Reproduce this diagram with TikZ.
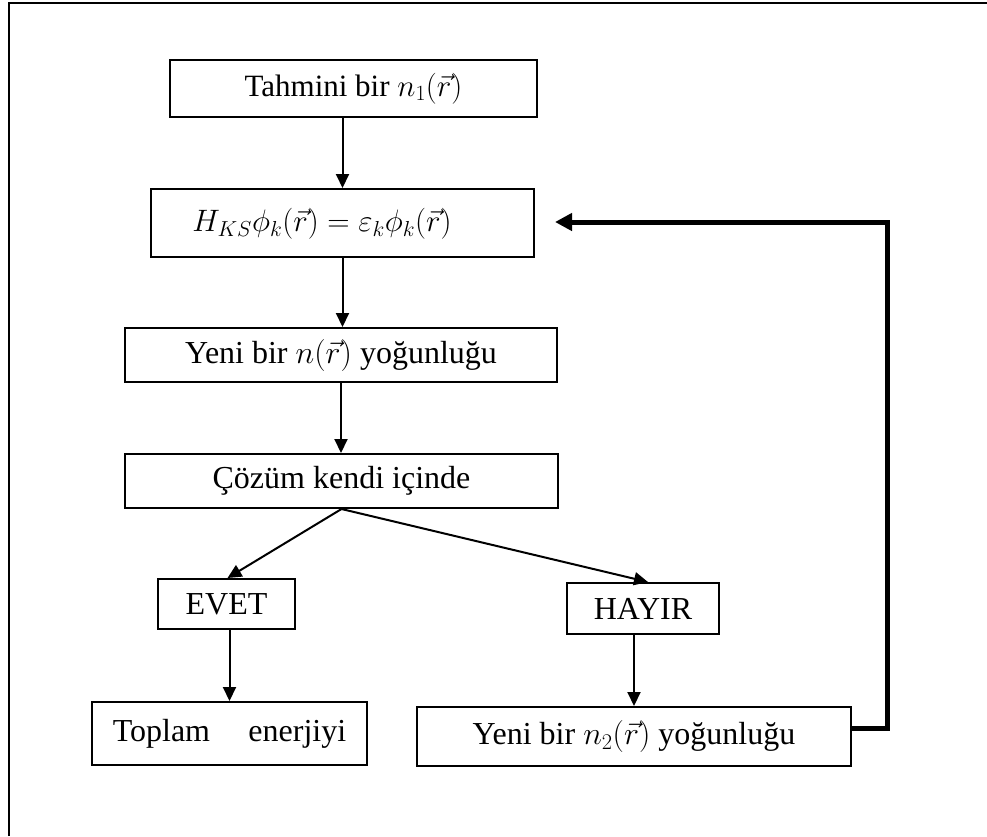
\RequirePackage{fix-cm}
\documentclass[tikz,border=0pt]{standalone}
\usepackage{fontspec}
\setmainfont{Liberation Serif}
\usetikzlibrary{arrows.meta,calc}
\begin{document}
\begin{tikzpicture}[x=1pt,y=-1pt,
  box/.style={draw, line width=2pt, inner sep=0pt, rectangle},
  big/.style={font=\fontsize{32}{38}\selectfont},
  mid/.style={font=\fontsize{31}{36}\selectfont},
  flow/.style={line width=2pt, -{Triangle[length=14pt,width=13pt]}},
  back/.style={line width=5pt, -{Triangle[length=17pt,width=17pt]}}]
\useasboundingbox (0,0) rectangle (987,836);
\draw[line width=2pt] (9,836) -- (9,3) -- (987,3);

\node[box, mid, minimum width=367pt, minimum height=57pt] (b1) at (353.5,88.5) {Tahmini bir $n_1(\vec{r})$};
\node[box, minimum width=383pt, minimum height=68pt] (b2) at (342.5,223) {};
\node[mid] (t2) at (322,224) {$H_{KS}\phi_k(\vec{r}) = \varepsilon_k\phi_k(\vec{r})$};
\node[box, big, minimum width=432pt, minimum height=54pt] (b3) at (341,355) {Yeni bir $n(\vec{r})$ yoğunluğu};
\node[box, big, minimum width=433pt, minimum height=54pt] (b4) at (341.5,481) {Çözüm kendi içinde};
\node[box, big, minimum width=137pt, minimum height=50pt] (evet) at (226.5,604) {EVET};
\node[box, big, minimum width=152pt, minimum height=51pt] (hayir) at (643,608.5) {HAYIR};
\node[box, big, minimum width=275pt, minimum height=63pt] (top) at (229.5,733.5) {Toplam\hspace{1.2em}enerjiyi};
\node[box, big, minimum width=434pt, minimum height=59pt] (n2) at (634,736.5) {Yeni bir $n_2(\vec{r})$ yoğunluğu};

\draw[flow] (b2 |- b1.south) -- (b2.north);
\draw[flow] (b2.south) -- (b2.south |- b3.north);
\draw[flow] (b3.south) -- (b3.south |- b4.north);
\draw[flow] (b4.south) -- ([xshift=1pt]evet.north);
\draw[flow] (b4.south) -- ([xshift=5pt]hayir.north);
\draw[flow] (evet.south -| top.north) -- (top.north);
\draw[flow] (n2.north |- hayir.south) -- (n2.north);

\coordinate (fbA) at ($(n2.east)+(0,-8.5)$);
\coordinate (fbB) at (887,728);
\coordinate (fbC) at (887,222);
\coordinate (fbD) at (555,222);
\draw[back] (fbA) -- (fbB) -- (fbC) -- (fbD);
\end{tikzpicture}
\end{document}
